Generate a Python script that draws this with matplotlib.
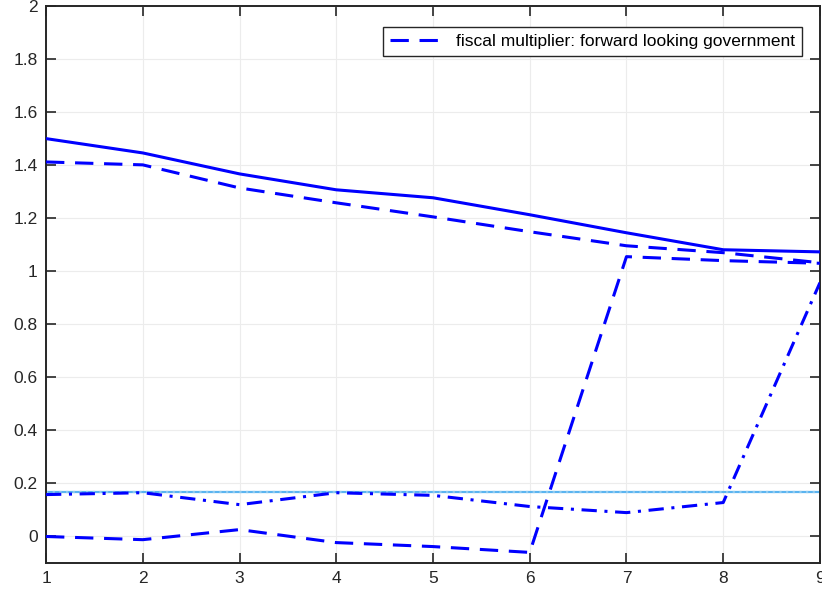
import numpy as np
import matplotlib.pyplot as plt

plt.rcParams['font.family'] = ['Liberation Sans', 'DejaVu Sans']

# horizon (quarters)
horizon = [1, 2, 3, 4, 5, 6, 7, 8, 9]

# fiscal multipliers under the different scenarios
mult_baseline = [1.50, 1.446, 1.367, 1.307, 1.277, 1.213, 1.145, 1.081, 1.073]
mult_forward = [1.412, 1.401, 1.314, 1.258, 1.205, 1.149, 1.096, 1.070, 1.032]
mult_switch = [0.0, -0.012, 0.026, -0.023, -0.038, -0.060, 1.055, 1.040, 1.030]
mult_late = [0.158, 0.165, 0.120, 0.165, 0.155, 0.113, 0.090, 0.128, 0.957]
mult_floor = 0.168

fig = plt.figure(figsize=(8.22, 5.98), dpi=100)
ax = fig.add_axes([0.056, 0.0585, 0.9415, 0.9315])

blue = '#0000ff'
ax.axhline(mult_floor, color='#5ab4f0', lw=1.6, zorder=2)
ax.axhline(mult_floor, color='#8fcaf0', lw=1.6, ls=(0, (1, 2)), zorder=2)

ax.plot(horizon, mult_baseline, color=blue, lw=2.2, zorder=3)
ax.plot(horizon, mult_forward, color=blue, lw=2.2, ls=(0, (6, 3.5)), zorder=3,
        label='fiscal multiplier: forward looking government')
ax.plot(horizon, mult_switch, color=blue, lw=2.2, ls=(0, (6, 3.5)), zorder=3)
ax.plot(horizon, mult_late, color=blue, lw=2.2, ls=(0, (5, 2.5, 1, 2.5)), zorder=3)

ax.set_xlim(1, 9)
ax.set_ylim(-0.1, 2)
ax.set_xticks(horizon)
ax.set_yticks(np.arange(0, 2.01, 0.2))
ax.set_yticklabels(['0', '0.2', '0.4', '0.6', '0.8', '1', '1.2', '1.4', '1.6', '1.8', '2'])

ax.grid(True, color='#ececec', lw=0.8)
ax.set_axisbelow(True)
ax.tick_params(direction='in', length=7, width=1.2, top=True, right=True,
               labelsize=12.5, colors='#262626', pad=6)
for s in ax.spines.values():
    s.set_color('#262626')
    s.set_linewidth(1.4)

leg = ax.legend(loc='upper right', bbox_to_anchor=(0.977, 0.962), fontsize=12.5,
                fancybox=False, framealpha=1, edgecolor='#262626',
                handlelength=3.0, handletextpad=0.8, borderpad=0.4,
                borderaxespad=0)
leg.get_frame().set_linewidth(1.0)

fig.savefig('out.png', dpi=100)
